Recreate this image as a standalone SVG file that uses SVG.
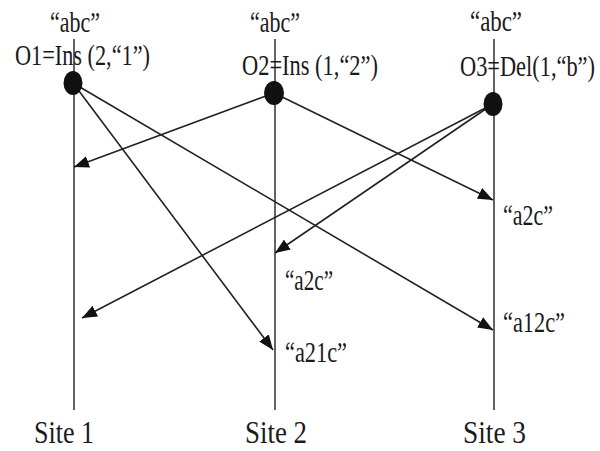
<svg xmlns="http://www.w3.org/2000/svg" width="600" height="451" viewBox="0 0 600 451">
<style>
.t{font-family:"Liberation Serif","Times New Roman",serif;font-size:22px;fill:#1a1a1a}
.s{font-family:"Liberation Serif","Times New Roman",serif;font-size:24px;fill:#1a1a1a}
.site{stroke:#222;stroke-width:1.4;fill:none}
.msg{stroke:#222;stroke-width:1.6;fill:none;marker-end:url(#ah)}
.dot{fill:#111}
</style>
<defs>
<marker id="ah" markerUnits="userSpaceOnUse" markerWidth="16" markerHeight="12" refX="15" refY="6" orient="auto">
<path d="M0,0 L15,6 L0,12 Z" fill="#111"/>
</marker>
</defs>
<g id="site1">
<line class="site" x1="74" y1="39" x2="74" y2="410"/>
<text class="s" transform="translate(34,443) scale(1,1.35)" textLength="60" lengthAdjust="spacingAndGlyphs">Site 1</text>
</g>
<g id="site2">
<line class="site" x1="275" y1="39" x2="275" y2="410"/>
<text class="s" transform="translate(245,443) scale(1,1.35)" textLength="62" lengthAdjust="spacingAndGlyphs">Site 2</text>
</g>
<g id="site3">
<line class="site" x1="494" y1="39" x2="494" y2="410"/>
<text class="s" transform="translate(463,443) scale(1,1.35)" textLength="63" lengthAdjust="spacingAndGlyphs">Site 3</text>
</g>
<g id="connectors">
<line class="msg" x1="73" y1="83" x2="273" y2="350"/>
<line class="msg" x1="73" y1="83" x2="493" y2="330"/>
<line class="msg" x1="274" y1="93" x2="74" y2="167"/>
<line class="msg" x1="274" y1="93" x2="493" y2="200"/>
<line class="msg" x1="493" y1="104" x2="275" y2="253"/>
<line class="msg" x1="493" y1="104" x2="82" y2="318"/>
</g>
<g id="O1">
<text class="t" transform="translate(50,32) scale(1,1.3)" textLength="50" lengthAdjust="spacingAndGlyphs">“abc”</text>
<text class="t" transform="translate(15,65) scale(1,1.3)" textLength="135" lengthAdjust="spacingAndGlyphs">O1=Ins (2,“1”)</text>
<ellipse class="dot" cx="73" cy="83" rx="9.5" ry="12"/>
</g>
<g id="O2">
<text class="t" transform="translate(250,32) scale(1,1.3)" textLength="50" lengthAdjust="spacingAndGlyphs">“abc”</text>
<text class="t" transform="translate(242,75) scale(1,1.3)" textLength="136" lengthAdjust="spacingAndGlyphs">O2=Ins (1,“2”)</text>
<ellipse class="dot" cx="274" cy="93" rx="10" ry="12"/>
</g>
<g id="O3">
<text class="t" transform="translate(470,31) scale(1,1.3)" textLength="52" lengthAdjust="spacingAndGlyphs">“abc”</text>
<text class="t" transform="translate(460,76) scale(1,1.3)" textLength="135" lengthAdjust="spacingAndGlyphs">O3=Del(1,“b”)</text>
<ellipse class="dot" cx="493" cy="104" rx="9.5" ry="12"/>
</g>
<g id="states">
<text class="t" transform="translate(503,225) scale(1,1.3)" textLength="50" lengthAdjust="spacingAndGlyphs">“a2c”</text>
<text class="t" transform="translate(503,332) scale(1,1.3)" textLength="62" lengthAdjust="spacingAndGlyphs">“a12c”</text>
<text class="t" transform="translate(285,290) scale(1,1.3)" textLength="48" lengthAdjust="spacingAndGlyphs">“a2c”</text>
<text class="t" transform="translate(285,362) scale(1,1.3)" textLength="62" lengthAdjust="spacingAndGlyphs">“a21c”</text>
</g>
</svg>
